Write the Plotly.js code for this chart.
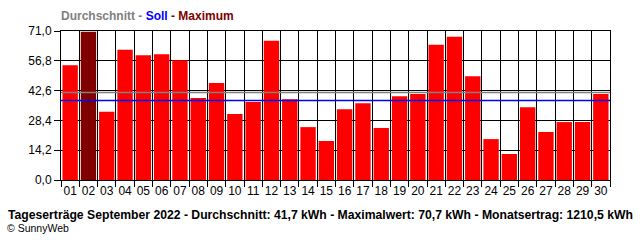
<!DOCTYPE html>
<html>
<head>
<meta charset="utf-8">
<script src="https://cdn.plot.ly/plotly-3.0.1.min.js"></script>
<style>
html,body{margin:0;padding:0;background:#fff;}
#chart{width:640px;height:240px;}
</style>
</head>
<body>
<div id="chart"></div>
<script>
const days = ['01','02','03','04','05','06','07','08','09','10','11','12','13','14','15','16','17','18','19','20','21','22','23','24','25','26','27','28','29','30'];
const dailyYield = [54.7,70.7,32.5,62.1,59.4,59.9,57.1,39.1,46.2,31.4,37.2,66.4,38.5,25.2,18.6,33.7,36.6,24.8,39.9,41.0,64.5,68.3,49.4,19.5,12.4,34.7,22.9,27.6,27.6,41.0];
const averageValue = 41.7;
const targetValue = 37.9;
const yTickVals = [0, 14.2, 28.4, 42.6, 56.8, 71.0];
const yTickText = ['0,0','14,2','28,4','42,6','56,8','71,0'];
const legendTitle = '<span style="color:#808080">Durchschnitt - </span><span style="color:#0000FF">Soll</span><span style="color:#800000"> - Maximum</span>';
const footerText = 'Tageserträge September 2022 - Durchschnitt: 41,7 kWh - Maximalwert: 70,7 kWh - Monatsertrag: 1210,5 kWh';
const copyrightText = '© SunnyWeb';

const maxVal = Math.max(...dailyYield);
const barColors = dailyYield.map(v => v === maxVal ? '#800000' : '#FF0000');

const font = 'Liberation Sans, Arial, sans-serif';

const trace = {
  type: 'bar',
  x: days,
  y: dailyYield,
  marker: {color: barColors, line: {width: 0}},
  hoverinfo: 'x+y'
};

const layout = {
  width: 640, height: 240,
  margin: {l: 61, r: 30, t: 31, b: 60, pad: 0},
  paper_bgcolor: '#fff', plot_bgcolor: '#fff',
  showlegend: false,
  bargap: 0.16,
  font: {family: font, size: 12, color: '#000'},
  title: {
    text: '<b>' + legendTitle + '</b>',
    x: 0, xref: 'paper', xanchor: 'left',
    y: 1 - 16/240, yref: 'container', yanchor: 'middle',
    font: {family: font, size: 12}
  },
  xaxis: {
    type: 'category',
    tickson: 'boundaries',
    tickangle: 0,
    ticks: 'outside', ticklen: 6, tickcolor: '#000', tickwidth: 1,
    showgrid: true, gridcolor: '#000', gridwidth: 1,
    showline: true, linecolor: '#000', linewidth: 1, mirror: true,
    tickfont: {family: font, size: 12, color: '#000'},
    range: [-0.5, 29.5],
    fixedrange: true
  },
  yaxis: {
    range: [0, 71],
    tickvals: yTickVals, ticktext: yTickText,
    ticks: 'outside', ticklen: 6, tickcolor: '#000', tickwidth: 1,
    showgrid: true, gridcolor: '#000', gridwidth: 1,
    zeroline: false,
    showline: true, linecolor: '#000', linewidth: 1, mirror: true,
    tickfont: {family: font, size: 12, color: '#000'},
    fixedrange: true
  },
  shapes: [
    {type: 'line', xref: 'paper', x0: 0, x1: 1, yref: 'y', y0: averageValue, y1: averageValue, line: {color: '#808080', width: 1.5}},
    {type: 'line', xref: 'paper', x0: 0, x1: 1, yref: 'y', y0: targetValue, y1: targetValue, line: {color: '#0000FF', width: 1.5}}
  ],
  annotations: [
    {text: '<b>' + footerText + '</b>', xref: 'paper', yref: 'paper', x: (6-61)/549, y: (180-215)/149, xanchor: 'left', yanchor: 'middle', showarrow: false, font: {family: font, size: 12.2, color: '#000'}},
    {text: copyrightText, xref: 'paper', yref: 'paper', x: (5-61)/549, y: (180-228)/149, xanchor: 'left', yanchor: 'middle', showarrow: false, font: {family: font, size: 10.5, color: '#000'}}
  ]
};

Plotly.newPlot('chart', [trace], layout, {displayModeBar: false, staticPlot: true});
</script>
</body>
</html>
